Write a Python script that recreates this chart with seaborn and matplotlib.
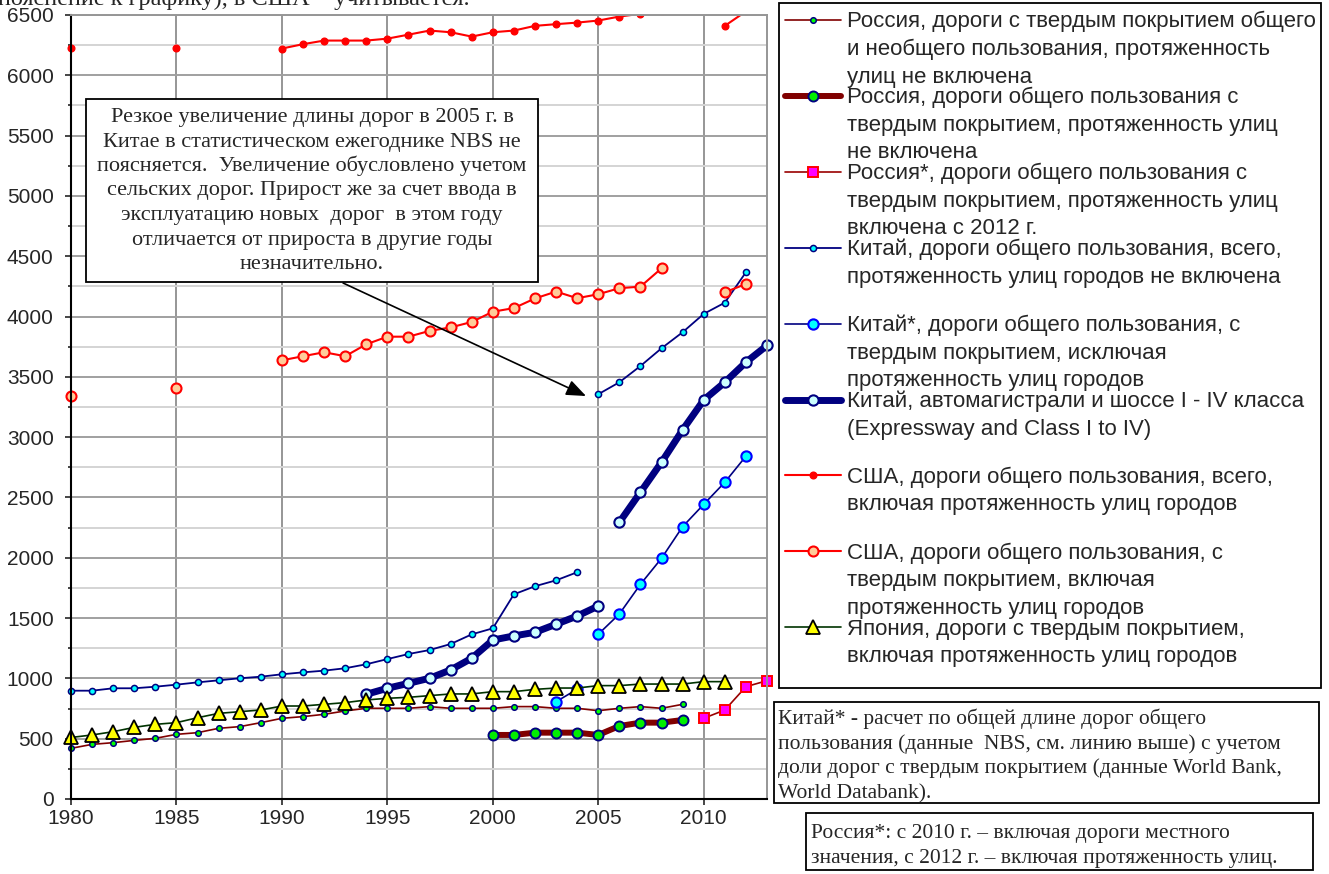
import numpy as np
import pandas as pd
import matplotlib
matplotlib.use("Agg")
import matplotlib.pyplot as plt
from matplotlib.patches import Rectangle
from matplotlib.ticker import MultipleLocator
import seaborn as sns

# road length, thousand km
# every series is a list of segments: (first year, values for consecutive years)
russia_hard = [(1980, [420, 453, 467, 486, 503, 536, 550, 586, 600, 633,
                       669, 683, 702, 730, 752, 752, 752, 766, 752, 752,
                       752, 766, 766, 752, 752, 732, 752, 766, 752, 785])]
russia_public = [(2000, [531, 531, 550, 550, 550, 531, 605, 633, 633, 655])]
russia_star = [(2010, [669, 738, 931, 981])]
china_total = [(1980, [898, 898, 918, 918, 931, 948, 967, 984, 1001, 1014,
                       1034, 1050, 1064, 1084, 1117, 1160, 1202, 1235, 1285, 1365,
                       1415, 1697, 1764, 1813, 1880]),
               (2005, [3356, 3455, 3590, 3737, 3870, 4022, 4115, 4367])]
china_star = [(2003, [807, 910]),
              (2005, [1366, 1534, 1780, 1996, 2258, 2443, 2626, 2842])]
china_expressway = [(1994, [868, 918, 959, 1001, 1070, 1167, 1318, 1352, 1382, 1449, 1517, 1600]),
                    (2006, [2294, 2543, 2792, 3060, 3308, 3455, 3621, 3760])]
usa_total = [(1980, [6225]), (1985, [6225]),
             (1990, [6222, 6258, 6288, 6288, 6288, 6304, 6337, 6371, 6357, 6321,
                     6357, 6371, 6410, 6424, 6437, 6454, 6487, 6510, 6534]),
             (2011, [6410, 6530])]
usa_paved = [(1980, [3339]), (1985, [3405]),
             (1990, [3637, 3671, 3704, 3671, 3770, 3833, 3833, 3881, 3910, 3955,
                     4040, 4070, 4150, 4207, 4152, 4185, 4235, 4248, 4400]),
             (2011, [4201, 4270])]
japan = [(1980, [510, 531, 558, 594, 619, 633, 674, 710, 724, 738,
                 771, 771, 785, 799, 821, 835, 843, 857, 871, 871,
                 890, 890, 909, 920, 920, 940, 940, 953, 953, 953, 973, 973])]

series = [russia_hard, russia_public, russia_star, china_total, china_star,
          china_expressway, usa_total, usa_paved, japan]

labels = [
    "Россия, дороги с твердым покрытием общего\nи необщего пользования, протяженность\nулиц не включена",
    "Россия, дороги общего пользования с\nтвердым покрытием, протяженность улиц\nне включена",
    "Россия*, дороги общего пользования с\nтвердым покрытием, протяженность улиц\nвключена с 2012 г.",
    "Китай, дороги общего пользования, всего,\nпротяженность улиц городов не включена",
    "Китай*, дороги общего пользования, с\nтвердым покрытием, исключая\nпротяженность улиц городов",
    "Китай, автомагистрали и шоссе I - IV класса\n(Expressway and Class I to IV)",
    "США, дороги общего пользования, всего,\nвключая протяженность улиц городов",
    "США, дороги общего пользования, с\nтвердым покрытием, включая\nпротяженность улиц городов",
    "Япония, дороги с твердым покрытием,\nвключая протяженность улиц городов",
]

styles = [
    dict(color="#800000", linewidth=1.2, marker="o", markersize=4.0,
         markerfacecolor="#00FF00", markeredgecolor="#000080", markeredgewidth=1.1),
    dict(color="#800000", linewidth=4.3, marker="o", markersize=7.2,
         markerfacecolor="#00EE00", markeredgecolor="#000080", markeredgewidth=1.4),
    dict(color="#990000", linewidth=1.2, marker="s", markersize=7.0,
         markerfacecolor="#FF00FF", markeredgecolor="#FF0000", markeredgewidth=1.4),
    dict(color="#000080", linewidth=1.3, marker="o", markersize=4.4,
         markerfacecolor="#00FFFF", markeredgecolor="#000080", markeredgewidth=1.1),
    dict(color="#000080", linewidth=1.2, marker="o", markersize=7.4,
         markerfacecolor="#00FFFF", markeredgecolor="#0000FF", markeredgewidth=1.5),
    dict(color="#000080", linewidth=5.0, marker="o", markersize=7.4,
         markerfacecolor="#CCFFFF", markeredgecolor="#000080", markeredgewidth=1.5),
    dict(color="#FF0000", linewidth=1.5, marker="o", markersize=4.8,
         markerfacecolor="#FF0000", markeredgecolor="#FF0000", markeredgewidth=1.0),
    dict(color="#FF0000", linewidth=1.5, marker="o", markersize=7.2,
         markerfacecolor="#FFCC99", markeredgecolor="#FF0000", markeredgewidth=1.5),
    dict(color="#003300", linewidth=1.2, marker="^", markersize=9.5,
         markerfacecolor="#FFFF00", markeredgecolor="#000000", markeredgewidth=1.3),
]

note_arrow = ("Резкое увеличение длины дорог в 2005 г. в\n"
              "Китае в статистическом ежегоднике NBS не\n"
              "поясняется.  Увеличение обусловлено учетом\n"
              "сельских дорог. Прирост же за счет ввода в\n"
              "эксплуатацию новых  дорог  в этом году\n"
              "отличается от прироста в другие годы\n"
              "незначительно.")
note_china = ("Китай* - расчет по общей длине дорог общего\n"
              "пользования (данные  NBS, см. линию выше) с учетом\n"
              "доли дорог с твердым покрытием (данные World Bank,\n"
              "World Databank).")
note_russia = ("Россия*: с 2010 г. – включая дороги местного\n"
               "значения, с 2012 г. – включая протяженность улиц.")
top_line = "пояснение к графику), в США – учитывается."

Y_MAX = 6500


def to_frame(segments):
    rows = []
    for seg_id, (start, vals) in enumerate(segments):
        for i, v in enumerate(vals):
            rows.append({"year": start + i, "km": v, "seg": seg_id})
    return pd.DataFrame(rows)


sns.set_style("ticks")
plt.rcParams["font.family"] = ["Liberation Sans", "DejaVu Sans"]
serif = ["Liberation Serif", "DejaVu Serif"]

fig = plt.figure(figsize=(13.29, 8.74), dpi=100)
W, H = 1329, 874
ax = fig.add_axes([71 / W, 1 - 799 / H, 696 / W, 784 / H])

for segs, st in zip(series, styles):
    n0 = len(ax.lines)
    sns.lineplot(data=to_frame(segs), x="year", y="km", units="seg",
                 estimator=None, ax=ax, **st)
    # Excel-like: markers on the frame are drawn whole, only lines above the top are cut
    for ln in ax.lines[n0:]:
        if np.max(ln.get_ydata()) <= Y_MAX:
            ln.set_clip_on(False)

ax.set_xlim(1980, 2013)
ax.set_ylim(0, Y_MAX)
ax.set_xlabel("")
ax.set_ylabel("")
ax.set_xticks(range(1980, 2011, 5))
ax.yaxis.set_major_locator(MultipleLocator(500))
ax.yaxis.set_minor_locator(MultipleLocator(250))
ax.set_axisbelow(True)
ax.xaxis.grid(True, which="major", color="#969696", linewidth=1.4)
ax.yaxis.grid(True, which="major", color="#A0A0A0", linewidth=1.4)
ax.yaxis.grid(True, which="minor", color="#D4D4D4", linewidth=1.4)
ax.tick_params(axis="y", which="major", length=4.5, width=1.2, pad=8, labelsize=15)
ax.tick_params(axis="y", which="minor", length=2.5, width=1.2)
ax.tick_params(axis="x", which="major", length=4, width=1.2, pad=3, labelsize=15)
for side in ["left", "bottom"]:
    ax.spines[side].set_color("black")
    ax.spines[side].set_linewidth(1.5)
for side in ["top", "right"]:
    ax.spines[side].set_visible(True)
    ax.spines[side].set_color("#969696")
    ax.spines[side].set_linewidth(1.4)

ax.annotate("", xy=(2004.42, 3341), xytext=(1992.9, 4278), annotation_clip=False,
            arrowprops=dict(arrowstyle="-|>,head_length=0.5,head_width=0.2",
                            mutation_scale=24, color="black", lw=1.2,
                            shrinkA=0, shrinkB=0))

# overlay in pixel units for the legend and the text boxes
ov = fig.add_axes([0, 0, 1, 1])
ov.set_xlim(0, W)
ov.set_ylim(H, 0)
ov.axis("off")
ov.patch.set_alpha(0)


def box(x0, y0, x1, y1):
    ov.add_patch(Rectangle((x0, y0), x1 - x0, y1 - y0, facecolor="white",
                           edgecolor="black", linewidth=1.3, clip_on=False))


# legend
box(779, 3, 1321, 688)
for i, (label, st) in enumerate(zip(labels, styles)):
    y = 20 + i * 75.9
    ov.plot([785, 813, 841], [y, y, y], markevery=[1], clip_on=False, **st)
    for j, line in enumerate(label.split("\n")):
        ov.text(847, y + 7.5 + j * 27.5, line, fontsize=16, va="baseline", ha="left")

# note with the arrow
box(86, 99, 538, 282)
for j, line in enumerate(note_arrow.split("\n")):
    ov.text(312, 115 + 7 + j * 24.5, line, fontsize=16, family=serif,
            va="baseline", ha="center")

box(774, 702, 1319, 803)
for j, line in enumerate(note_china.split("\n")):
    ov.text(778, 717 + 7 + j * 24.7, line, fontsize=15.5, family=serif,
            va="baseline", ha="left")

box(806, 813, 1313, 870)
for j, line in enumerate(note_russia.split("\n")):
    ov.text(811, 831 + 7 + j * 24.7, line, fontsize=15.5, family=serif,
            va="baseline", ha="left")

# last line of the paragraph above the chart, cut by the picture's top edge
ov.text(-2, 5, top_line, fontsize=17.5, family=serif, va="baseline", ha="left")

fig.savefig("out.png", dpi=100)
